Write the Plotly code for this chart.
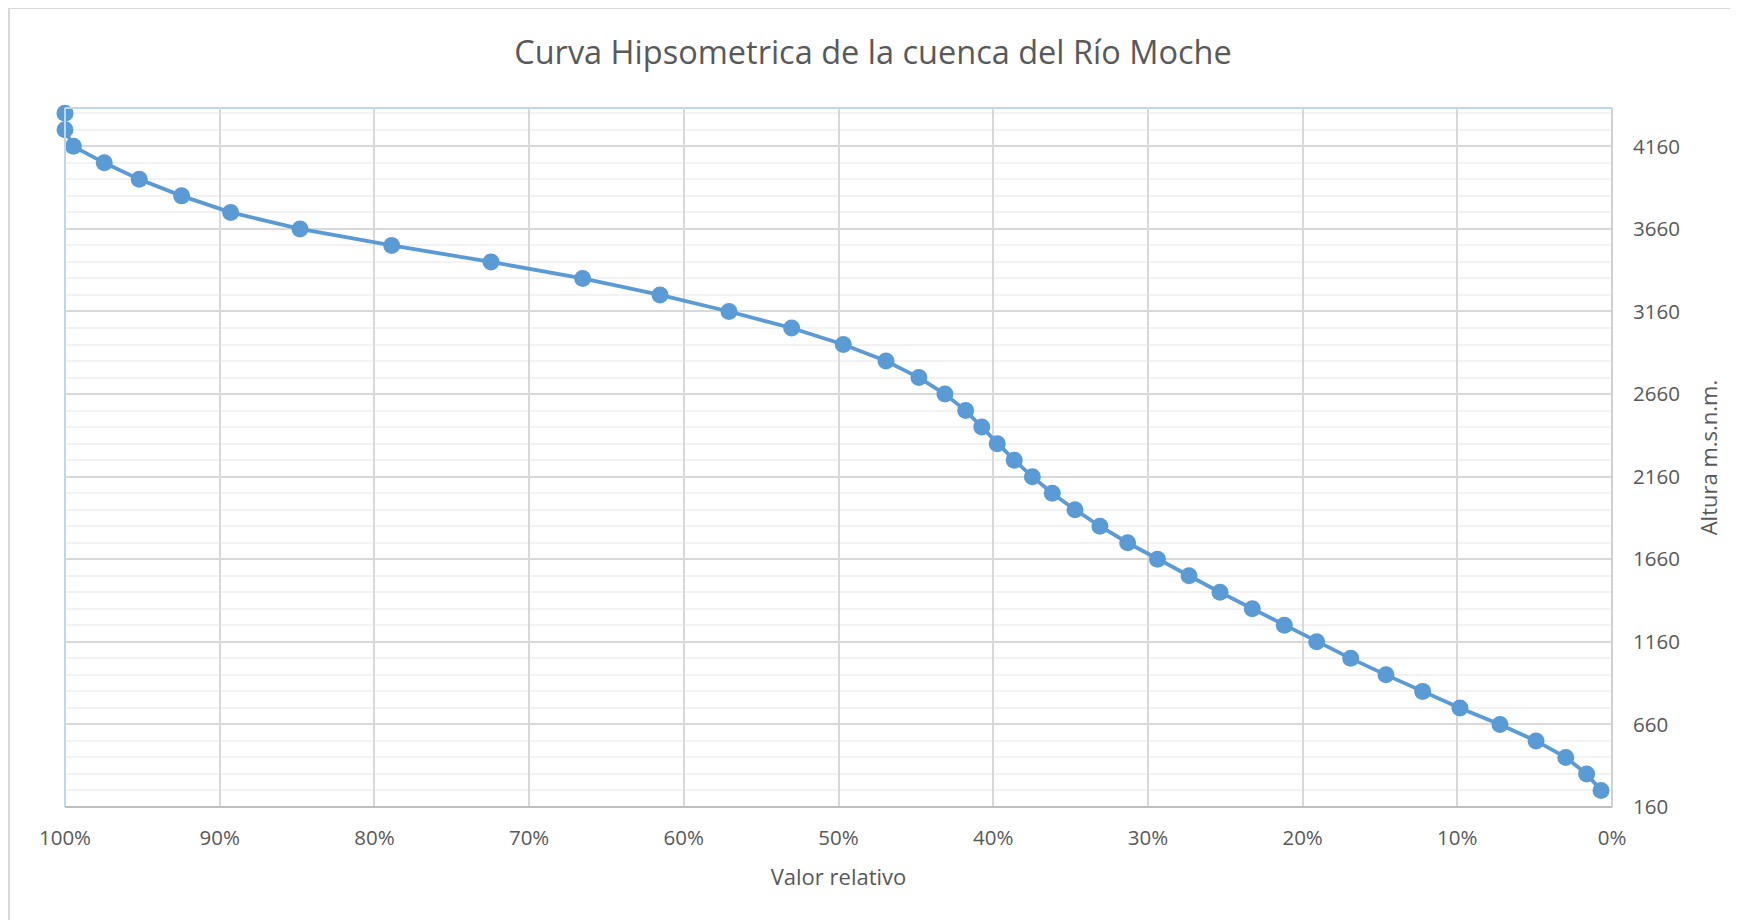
import plotly.graph_objects as go

# Valor relativo (%) and altura (m.s.n.m.)
valor_relativo = [100, 100, 99.46, 97.46, 95.20, 92.46, 89.29, 84.81, 78.88, 72.46,
                  66.54, 61.54, 57.08, 53.03, 49.69, 46.93, 44.80, 43.12, 41.78, 40.74,
                  39.74, 38.64, 37.47, 36.18, 34.71, 33.10, 31.31, 29.38, 27.34, 25.34,
                  23.25, 21.18, 19.09, 16.89, 14.61, 12.24, 9.83, 7.24, 4.91, 2.99,
                  1.64, 0.71]
altura = [4360, 4260, 4160, 4060, 3960, 3860, 3760, 3660, 3560, 3460,
          3360, 3260, 3160, 3060, 2960, 2860, 2760, 2660, 2560, 2460,
          2360, 2260, 2160, 2060, 1960, 1860, 1760, 1660, 1560, 1460,
          1360, 1260, 1160, 1060, 960, 860, 760, 660, 560, 460,
          360, 260]
x_ticks = [100, 90, 80, 70, 60, 50, 40, 30, 20, 10, 0]
x_tick_labels = ["100%", "90%", "80%", "70%", "60%", "50%", "40%", "30%", "20%", "10%", "0%"]
y_ticks = [160, 660, 1160, 1660, 2160, 2660, 3160, 3660, 4160]

TEXT = "#595959"
FONT = "Open Sans"

fig = go.Figure()
fig.add_trace(go.Scatter(
    x=valor_relativo, y=altura, mode="lines+markers",
    line=dict(color="#5B9BD5", width=3.8),
    marker=dict(color="#5B9BD5", size=17),
    showlegend=False, cliponaxis=False,
))

OFF = 8  # page body margin
W, H = 1738 - OFF, 920 - OFF
L, R, T, B = 65 - OFF, 1612 - OFF, 108 - OFF, 807 - OFF

fig.update_layout(
    width=W, height=H,
    margin=dict(l=L, r=W - R, t=T, b=H - B, autoexpand=False),
    paper_bgcolor="white", plot_bgcolor="white",
    font=dict(family=FONT, color=TEXT, size=20),
    title=dict(text="Curva Hipsometrica de la cuenca del Río Moche",
               x=0.5, xanchor="center", y=1 - (53 - OFF) / H, yanchor="middle",
               font=dict(size=32.5, color=TEXT, family=FONT)),
    xaxis=dict(
        range=[100, 0], tickvals=x_ticks, ticktext=x_tick_labels,
        showgrid=True, gridcolor="#D9D9D9", gridwidth=1.5,
        showline=False, zeroline=False, ticks="",
        ticklabelstandoff=16,
        tickfont=dict(size=20.5, color=TEXT),
        title=dict(text="Valor relativo", standoff=20,
                   font=dict(size=22, color=TEXT)),
    ),
    yaxis=dict(
        side="right", range=[160, 4392], tickvals=y_ticks,
        showgrid=True, gridcolor="#D9D9D9", gridwidth=1.5,
        minor=dict(dtick=100, tick0=160, showgrid=True, gridcolor="#F2F2F2", gridwidth=1.5),
        showline=False, zeroline=False, ticks="",
        ticklabelstandoff=20,
        tickfont=dict(size=20.5, color=TEXT),
        title=dict(text="Altura m.s.n.m.", standoff=22,
                   font=dict(size=22, color=TEXT)),
    ),
)

pw, ph = R - L, B - T
def px(x):
    return (x - OFF - L) / pw
def py(y):
    return (B - (y - OFF)) / ph

shapes = [
    dict(type="line", xref="paper", yref="paper", x0=0, x1=1, y0=1, y1=1,
         line=dict(color="#BDD7EE", width=2)),
    dict(type="line", xref="paper", yref="paper", x0=0, x1=0, y0=0, y1=1,
         line=dict(color="#BDD7EE", width=2)),
    dict(type="line", xref="paper", yref="paper", x0=1, x1=1, y0=0, y1=1,
         line=dict(color="#D0D0D0", width=2)),
    dict(type="line", xref="paper", yref="paper", x0=0, x1=1, y0=0, y1=0,
         line=dict(color="#BFBFBF", width=2)),
    dict(type="line", xref="paper", yref="paper", x0=px(9), x1=px(9), y0=py(8), y1=py(930),
         line=dict(color="#D9D9D9", width=2)),
    dict(type="line", xref="paper", yref="paper", x0=px(9), x1=px(1750), y0=py(8), y1=py(8),
         line=dict(color="#D9D9D9", width=2)),
]
fig.update_layout(shapes=shapes)

fig.write_html("out.html")
